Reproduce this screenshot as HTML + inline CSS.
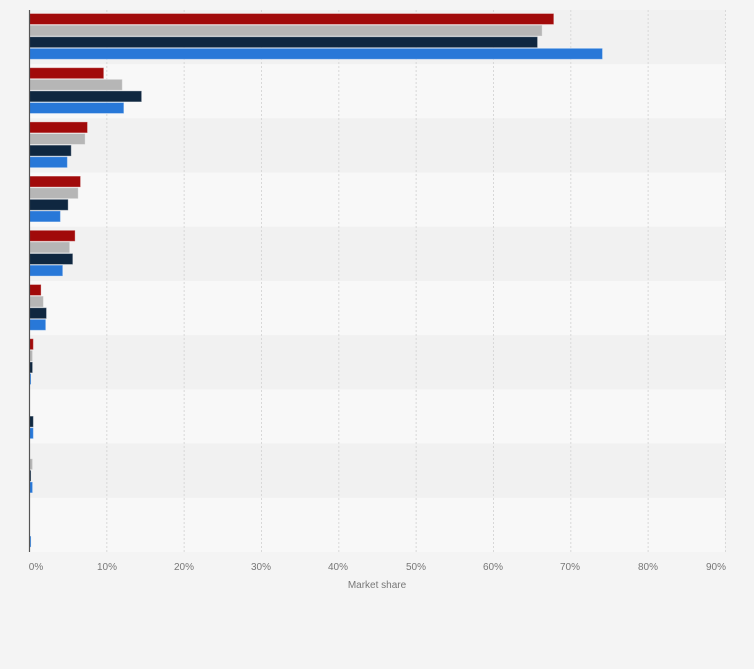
<!DOCTYPE html>
<html><head><meta charset="utf-8"><style>
html,body{margin:0;padding:0;background:#f4f4f4;}
svg{display:block;font-family:"Liberation Sans",sans-serif;}
</style></head><body>
<svg width="754" height="669" viewBox="0 0 754 669" xmlns="http://www.w3.org/2000/svg">
<rect width="754" height="669" fill="#f4f4f4"/>
<g id="rows"></g>
<g id="grid"></g>
<g id="bars"></g>
<line x1="29.5" y1="10" x2="29.5" y2="552" stroke="#555" stroke-width="1.2"/>
<g font-size="10" fill="#777" text-anchor="middle">
<text x="36" y="570">0%</text>
<text x="107" y="570">10%</text>
<text x="184" y="570">20%</text>
<text x="261" y="570">30%</text>
<text x="338" y="570">40%</text>
<text x="416" y="570">50%</text>
<text x="493" y="570">60%</text>
<text x="570" y="570">70%</text>
<text x="648" y="570">80%</text>
<text x="716" y="570">90%</text>
<text x="377" y="588">Market share</text>
</g>
<script>
var ns="http://www.w3.org/2000/svg";
function el(p,t,a){var e=document.createElementNS(ns,t);for(var k in a)e.setAttribute(k,a[k]);document.getElementById(p).appendChild(e);}
var pitch=54.2,top0=10,s=7.733;
for(var i=0;i<10;i++)el("rows","rect",{x:29,y:top0+i*pitch,width:696,height:pitch,fill:i%2?"#f8f8f8":"#f1f1f1"});
for(var g=1;g<=9;g++){var x=29.5+g*s*10;el("grid","line",{x1:x,y1:10,x2:x,y2:552,stroke:"#d8d8d8","stroke-dasharray":"2,2"});}
var d=[[67.8,66.3,65.7,74.1],[9.6,12.0,14.5,12.2],[7.5,7.2,5.4,4.9],[6.6,6.3,5.0,4.0],[5.9,5.2,5.6,4.3],[1.5,1.8,2.2,2.1],[0.5,0.4,0.4,0.2],[0,0,0.5,0.5],[0,0.4,0.2,0.4],[0,0,0,0.2]];
var c=["#a10a0a","#b6b6b6","#0f2740","#2878d8"];
for(var i=0;i<10;i++)for(var j=0;j<4;j++){var v=d[i][j];if(!v)continue;
el("bars","rect",{x:29.5,y:top0+i*pitch+3.5+j*11.6,width:v*s,height:11,fill:c[j],stroke:"rgba(255,255,255,0.35)","stroke-width":1});}
</script>
</svg>
</body></html>
